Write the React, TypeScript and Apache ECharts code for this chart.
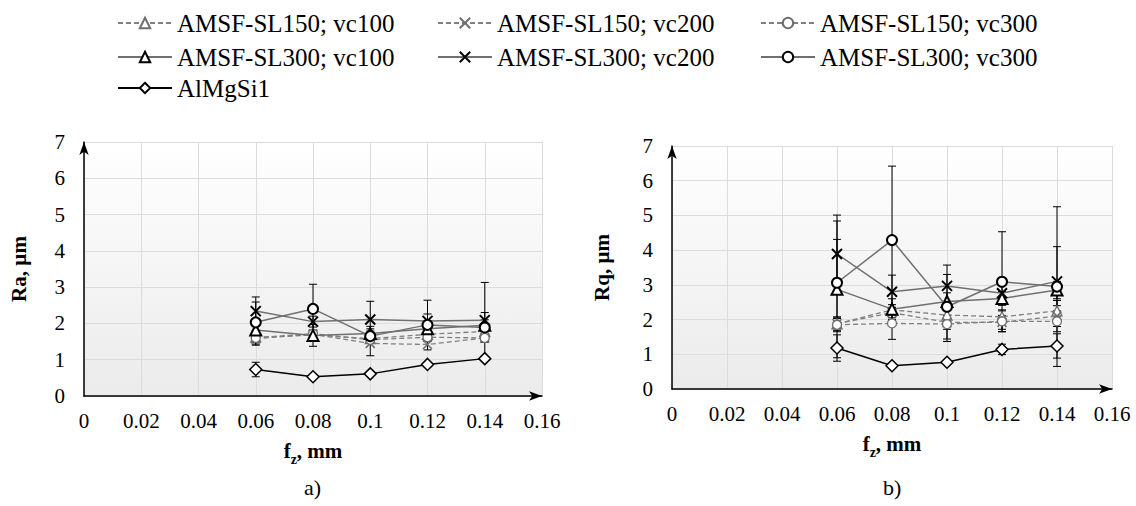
import React, { useEffect, useRef } from "react";
import * as echarts from "echarts";

// ---- data ----
const FZ = [0.06, 0.08, 0.1, 0.12, 0.14];
const X_MIN = 0;
const X_MAX = 0.16;
const X_STEP = 0.02;
const Y_MIN = 0;
const Y_MAX = 7;
const Y_STEP = 1;

const NAMES = [
  "AMSF-SL150; vc100",
  "AMSF-SL150; vc200",
  "AMSF-SL150; vc300",
  "AMSF-SL300; vc100",
  "AMSF-SL300; vc200",
  "AMSF-SL300; vc300",
  "AlMgSi1",
];

// Ra (chart a)
const RA_SL150_VC100 = [1.62, 1.68, 1.58, 1.7, 1.78];
const RA_SL150_VC200 = [1.58, 1.7, 1.45, 1.42, 1.6];
const RA_SL150_VC300 = [1.6, 1.72, 1.55, 1.62, 1.6];
const RA_SL300_VC100 = [1.82, 1.67, 1.72, 1.85, 1.95];
const RA_SL300_VC200 = [2.34, 2.05, 2.11, 2.07, 2.09];
const RA_SL300_VC300 = [2.03, 2.4, 1.65, 1.96, 1.89];
const RA_ALMGSI1 = [0.73, 0.53, 0.61, 0.87, 1.03];

const RA_ERR_SL150_VC100 = [0.12, 0.1, 0.1, 0.1, 0.12];
const RA_ERR_SL150_VC200 = [0.15, 0.1, 0.34, 0.15, 0.1];
const RA_ERR_SL150_VC300 = [0.2, 0.1, 0.1, 0.1, 0.1];
const RA_ERR_SL300_VC100 = [0.2, 0.3, 0.2, 0.15, 0.15];
const RA_ERR_SL300_VC200 = [0.39, 0.15, 0.5, 0.57, 1.04];
const RA_ERR_SL300_VC300 = [0.56, 0.68, 0.2, 0.3, 0.41];
const RA_ERR_ALMGSI1 = [0.2, 0.04, 0.05, 0.06, 0.05];

// Rq (chart b)
const RQ_SL150_VC100 = [1.88, 2.28, 2.13, 2.08, 2.25];
const RQ_SL150_VC200 = [1.88, 2.2, 1.92, 1.92, 2.1];
const RQ_SL150_VC300 = [1.85, 1.89, 1.87, 1.95, 1.95];
const RQ_SL300_VC100 = [2.87, 2.3, 2.52, 2.61, 2.85];
const RQ_SL300_VC200 = [3.89, 2.8, 2.97, 2.76, 3.1];
const RQ_SL300_VC300 = [3.06, 4.29, 2.37, 3.09, 2.95];
const RQ_ALMGSI1 = [1.18, 0.67, 0.77, 1.14, 1.24];

const RQ_ERR_SL150_VC100 = [0.15, 0.15, 0.15, 0.2, 0.3];
const RQ_ERR_SL150_VC200 = [0.2, 0.15, 0.2, 0.2, 0.3];
const RQ_ERR_SL150_VC300 = [0.2, 0.46, 0.5, 0.3, 0.3];
const RQ_ERR_SL300_VC100 = [1.97, 0.3, 0.25, 0.2, 0.25];
const RQ_ERR_SL300_VC200 = [1.12, 0.48, 0.6, 0.3, 1.0];
const RQ_ERR_SL300_VC300 = [1.25, 2.13, 0.93, 1.44, 2.3];
const RQ_ERR_ALMGSI1 = [0.38, 0.05, 0.05, 0.15, 0.35];

const RA_VALUES = [RA_SL150_VC100, RA_SL150_VC200, RA_SL150_VC300, RA_SL300_VC100, RA_SL300_VC200, RA_SL300_VC300, RA_ALMGSI1];
const RA_ERRORS = [RA_ERR_SL150_VC100, RA_ERR_SL150_VC200, RA_ERR_SL150_VC300, RA_ERR_SL300_VC100, RA_ERR_SL300_VC200, RA_ERR_SL300_VC300, RA_ERR_ALMGSI1];
const RQ_VALUES = [RQ_SL150_VC100, RQ_SL150_VC200, RQ_SL150_VC300, RQ_SL300_VC100, RQ_SL300_VC200, RQ_SL300_VC300, RQ_ALMGSI1];
const RQ_ERRORS = [RQ_ERR_SL150_VC100, RQ_ERR_SL150_VC200, RQ_ERR_SL150_VC300, RQ_ERR_SL300_VC100, RQ_ERR_SL300_VC200, RQ_ERR_SL300_VC300, RQ_ERR_ALMGSI1];

const Y_NAMES = ["Ra, µm", "Rq, µm"];
const CAPTIONS = ["a)", "b)"];

// ---- styles ----
const FF = "Liberation Serif";
const CROSS = "path://M0,0L10,10M10,0L0,10";
const GRAY = "#808080";

type Sty = { symbol: string; size: number; line: string; dash: boolean; mark: string; lw: number; bw: number };
const STYLES: Sty[] = [
  { symbol: "triangle", size: 10, line: GRAY, dash: true, mark: "#6e6e6e", lw: 1.3, bw: 1.3 },
  { symbol: CROSS, size: 9, line: GRAY, dash: true, mark: "#6e6e6e", lw: 1.3, bw: 1.5 },
  { symbol: "circle", size: 9, line: GRAY, dash: true, mark: "#6e6e6e", lw: 1.3, bw: 1.3 },
  { symbol: "triangle", size: 11, line: "#707070", dash: false, mark: "#000", lw: 1.5, bw: 2 },
  { symbol: CROSS, size: 10, line: "#707070", dash: false, mark: "#000", lw: 1.5, bw: 2 },
  { symbol: "circle", size: 10, line: "#707070", dash: false, mark: "#000", lw: 1.5, bw: 2 },
  { symbol: "diamond", size: 12, line: "#000", dash: false, mark: "#000", lw: 1.5, bw: 1.5 },
];

const LEGEND_POS = [
  { left: 117, top: 9 },
  { left: 437, top: 9 },
  { left: 760, top: 9 },
  { left: 117, top: 43 },
  { left: 437, top: 43 },
  { left: 760, top: 43 },
  { left: 117, top: 74 },
];

const GRIDS = [
  { left: 84, top: 142, width: 458, height: 254 },
  { left: 672, top: 146, width: 440, height: 243 },
];

function buildOption() {
  const series: any[] = [];
  [RA_VALUES, RQ_VALUES].forEach((vals, g) => {
    const errs = g === 0 ? RA_ERRORS : RQ_ERRORS;
    NAMES.forEach((name, i) => {
      const st = STYLES[i];
      series.push({
        type: "custom",
        name: name + "-err",
        xAxisIndex: g,
        yAxisIndex: g,
        z: 1,
        silent: true,
        data: FZ.map((x, k) => [x, vals[i][k] - errs[i][k], vals[i][k] + errs[i][k]]),
        renderItem: (params: any, api: any) => {
          const x = api.value(0);
          const p1 = api.coord([x, api.value(2)]);
          const p2 = api.coord([x, api.value(1)]);
          const cw = 4;
          const s = { stroke: "#000", lineWidth: 1 };
          return {
            type: "group",
            children: [
              { type: "line", shape: { x1: p1[0], y1: p1[1], x2: p2[0], y2: p2[1] }, style: s },
              { type: "line", shape: { x1: p1[0] - cw, y1: p1[1], x2: p1[0] + cw, y2: p1[1] }, style: s },
              { type: "line", shape: { x1: p2[0] - cw, y1: p2[1], x2: p2[0] + cw, y2: p2[1] }, style: s },
            ],
          };
        },
      });
      series.push({
        type: "line",
        name,
        xAxisIndex: g,
        yAxisIndex: g,
        z: 3 + i,
        data: FZ.map((x, k) => [x, vals[i][k]]),
        symbol: st.symbol,
        symbolSize: st.size,
        showAllSymbol: true,
        lineStyle: { color: st.line, width: st.lw, type: st.dash ? [5, 3] : "solid" },
        itemStyle: { color: "#fff", borderColor: st.mark, borderWidth: st.bw },
        emphasis: { disabled: true },
      });
    });
  });

  const tickFmt = (v: number) => String(Number(v.toFixed(2)));

  const xAxis = GRIDS.map((_, g) => ({
    type: "value",
    gridIndex: g,
    min: X_MIN,
    max: X_MAX,
    interval: X_STEP,
    name: "{b|f}{s|z}{b|, mm}",
    nameLocation: "middle",
    nameGap: 40,
    nameTextStyle: {
      rich: {
        b: { fontFamily: FF, fontSize: 21, fontWeight: "bold", color: "#000", lineHeight: 30 },
        s: { fontFamily: FF, fontSize: 14, fontWeight: "bold", color: "#000", lineHeight: 20, verticalAlign: "bottom" },
      },
    },
    axisLine: { show: true, symbol: ["none", "arrow"], symbolSize: [7, 13], lineStyle: { color: "#000", width: 1.5 } },
    axisTick: { show: false },
    axisLabel: { fontFamily: FF, fontSize: 21, color: "#000", margin: 14, formatter: tickFmt },
    splitLine: { show: true, lineStyle: { color: "#dcdcdc", width: 1 } },
  }));

  const yAxis = GRIDS.map((_, g) => ({
    type: "value",
    gridIndex: g,
    min: Y_MIN,
    max: Y_MAX,
    interval: Y_STEP,
    name: Y_NAMES[g],
    nameLocation: "middle",
    nameGap: g === 0 ? 55 : 60,
    nameTextStyle: { fontFamily: FF, fontSize: 21, fontWeight: "bold", color: "#000" },
    axisLine: { show: true, symbol: ["none", "arrow"], symbolSize: [7, 13], lineStyle: { color: "#000", width: 1.5 } },
    axisTick: { show: false },
    axisLabel: { fontFamily: FF, fontSize: 21, color: "#000", margin: 19 },
    splitLine: { show: true, lineStyle: { color: "#dcdcdc", width: 1 } },
  }));

  const legend = NAMES.map((name, i) => ({
    data: [name],
    left: LEGEND_POS[i].left,
    top: LEGEND_POS[i].top,
    padding: 0,
    itemWidth: 54,
    itemHeight: 13,
    selectedMode: false,
    textStyle: { fontFamily: FF, fontSize: 25, color: "#000", lineHeight: 28 },
  }));

  const grid = GRIDS.map((gr) => ({
    ...gr,
    show: true,
    borderWidth: 0,
    backgroundColor: new echarts.graphic.LinearGradient(0, 0, 0, 1, [
      { offset: 0, color: "#ffffff" },
      { offset: 1, color: "#ebebeb" },
    ]),
    containLabel: false,
  }));

  const graphic = GRIDS.map((gr, g) => ({
    type: "text",
    left: gr.left + gr.width / 2 - 9,
    top: 476,
    style: { text: CAPTIONS[g], fontFamily: FF, fontSize: 22, fill: "#000" },
  }));

  return {
    animation: false,
    backgroundColor: "#fff",
    textStyle: { fontFamily: FF },
    grid,
    xAxis,
    yAxis,
    legend,
    series,
    graphic,
  };
}

export default function App() {
  const ref = useRef<HTMLDivElement>(null);
  useEffect(() => {
    if (!ref.current) return;
    const chart = echarts.init(ref.current, null, { renderer: "svg" });
    chart.setOption(buildOption() as any);
    return () => chart.dispose();
  }, []);
  return <div ref={ref} style={{ position: "absolute", left: 0, top: 0, width: 1136, height: 506 }} />;
}
